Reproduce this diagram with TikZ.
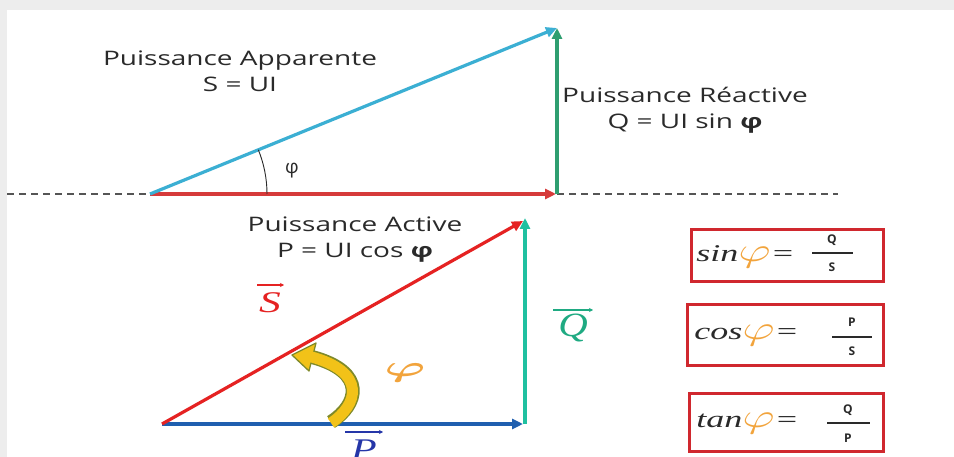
\documentclass[tikz,border=0pt]{standalone}
\usepackage{graphicx}
\usepackage{fontspec}
\setmainfont{Open Sans}
\newfontfamily\formfont{Liberation Serif}
\usetikzlibrary{arrows.meta}
\definecolor{txt}{HTML}{2A2A2A}
\definecolor{cyanl}{HTML}{3BAFD3}
\definecolor{greenl}{HTML}{2E9E70}
\definecolor{redtop}{HTML}{D63A3A}
\definecolor{redS}{HTML}{E52222}
\definecolor{blueP}{HTML}{1F5FAF}
\definecolor{tealQ}{HTML}{20C0A0}
\definecolor{tealtxt}{HTML}{1FAA82}
\definecolor{bluetxt}{HTML}{2536A8}
\definecolor{orangeph}{HTML}{F2A43C}
\definecolor{yel}{HTML}{F2C218}
\definecolor{olivel}{HTML}{7F8A2A}
\definecolor{boxred}{HTML}{D0282E}
\newcommand{\bigphi}{\textcolor{orangeph}{\scalebox{1.35}{$\varphi$}}}
\begin{document}
\begin{tikzpicture}[x=1pt,y=-1pt,
  lbl/.style={font=\fontsize{20}{26}\selectfont, text=txt, xscale=1.4, inner sep=0pt, align=center},
  vecline/.style={line width=3.2pt, -{Triangle[length=11pt,width=10pt]}},
  dashline/.style={line width=1.6pt, dash pattern=on 7pt off 5pt, draw=txt!80},
  formbox/.style={draw=boxred, line width=3pt},
  form/.style={font=\formfont\itshape\fontsize{24}{24}\selectfont, text=txt, xscale=1.5, inner sep=0pt, anchor=west},
  frac/.style={font=\fontsize{12}{12}\selectfont\bfseries, text=txt, inner sep=0pt},
  vlab/.style={font=\formfont\itshape\fontsize{#1}{#1}\selectfont, inner sep=0pt},
  overarr/.style={line width=1.1pt, -{Stealth[length=4pt,width=4pt]}}
]
\useasboundingbox (0,0) rectangle (954,457);
\fill[black!7] (0,0) rectangle (954,457);
\fill[white] (7,10) rectangle (954,457);

% ---------- top triangle ----------
\coordinate (O1) at (150,194);
\coordinate (P1) at (556,194);
\coordinate (T1) at (557,28);
\coordinate (G1) at (557,194);
\coordinate (DL) at (7,194);
\coordinate (DR) at (838,194);
\draw[dashline] (DL) -- (O1);
\draw[dashline] (G1) -- (DR);
\draw[vecline, redtop] (O1) -- (P1);
\draw[vecline, greenl] (G1) -- (T1);
\draw[vecline, cyanl] (O1) -- (T1);
\draw[line width=0.9pt, txt] (O1) ++(117,0) arc[start angle=0, end angle=-22.2, radius=117];
\node[font=\fontsize{19}{19}\selectfont, text=txt, inner sep=0pt] (phitop) at (292,171) {φ};

\node[lbl] (app) at (240,71) {Puissance Apparente\\S = UI};
\node[lbl] (rea) at (685,110) {Puissance Réactive\\Q = UI sin \textbf{φ}};
\node[lbl] (act) at (355,240) {Puissance Active\\P = UI cos \textbf{φ}};

% ---------- bottom triangle ----------
\coordinate (O2) at (162,424);
\coordinate (P2) at (523,424);
\coordinate (Q2b) at (525,424);
\coordinate (Q2t) at (525,218);
\coordinate (S2) at (523,221);
\draw[vecline, blueP] (O2) -- (P2);
\draw[vecline, tealQ, line width=4pt] (Q2b) -- (Q2t);
\draw[vecline, redS] (O2) -- (S2);

% curved yellow arrow
\draw[line width=14pt, olivel] (331,422) .. controls (358,405) and (368,372) .. (312,357);
\filldraw[fill=yel, draw=olivel, line width=1.3pt, line join=round] (316,343) -- (292,355) -- (309,371) -- cycle;
\draw[line width=11pt, yel] (331,423) .. controls (358,405) and (368,372) .. (310,356.5);

\node[text=orangeph, xscale=1.9, inner sep=0pt] (phi) at (405,373) {\scalebox{2.9}{\boldmath$\varphi$}};

% vector labels
\node[vlab=30, text=redS, xscale=1.45] (Sl) at (270,303) {S};
\draw[overarr, redS] (257,285) -- (284,285);
\node[vlab=34, text=tealtxt, xscale=1.2] (Ql) at (573,328) {Q};
\draw[overarr, tealtxt] (553,310) -- (593,310);
\node[vlab=30, text=bluetxt, xscale=1.4] (Pl) at (364,450) {P};
\draw[overarr, bluetxt] (345,432) -- (383,432);

% ---------- formula boxes ----------
\draw[formbox] (691,230) rectangle (883,282);
\node[form] (f1) at (696,257) {sin\bigphi=};
\node[frac] (f1n) at (832,240) {Q};
\node[frac] (f1d) at (832,267) {S};
\draw[line width=1.1pt, txt] (812,253) -- (853,253);

\draw[formbox] (687,305) rectangle (883,365);
\node[form] (f2) at (694,336) {cos\bigphi=};
\node[frac] (f2n) at (852,322) {P};
\node[frac] (f2d) at (852,351) {S};
\draw[line width=1.1pt, txt] (832,337) -- (872,337);

\draw[formbox] (689,393) rectangle (883,451);
\node[form] (f3) at (696,424) {tan\bigphi=};
\node[frac] (f3n) at (848,410) {Q};
\node[frac] (f3d) at (848,438) {P};
\draw[line width=1.1pt, txt] (827,423) -- (870,423);
\end{tikzpicture}
\end{document}
